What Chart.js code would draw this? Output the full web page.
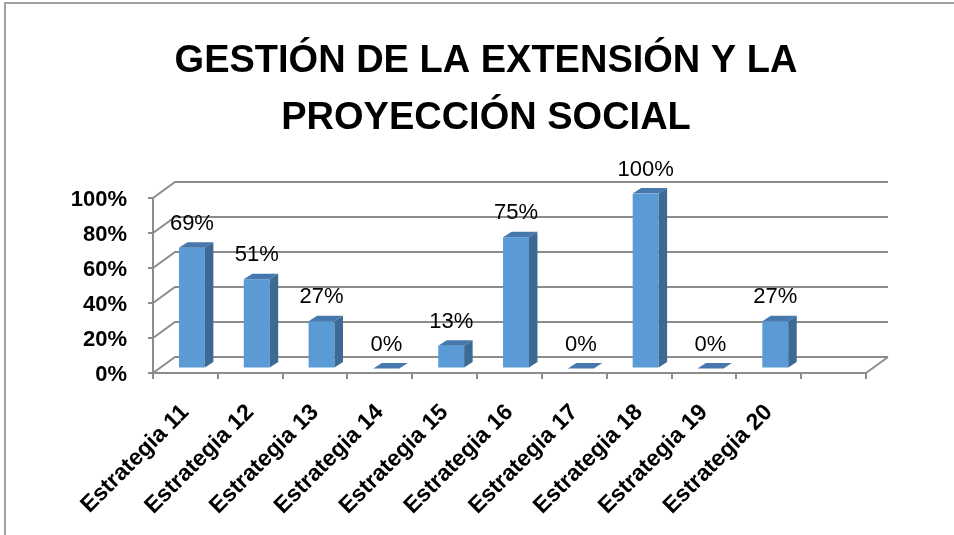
<!DOCTYPE html>
<html><head><meta charset="utf-8">
<script src="https://cdn.jsdelivr.net/npm/chart.js@4/dist/chart.umd.min.js"></script>
<style>html,body{margin:0;padding:0;background:#fff}#wrap{width:954px;height:535px}</style>
</head><body>
<div id="wrap"><canvas id="c" width="954" height="535"></canvas></div>
<script>
const categories = ['Estrategia 11','Estrategia 12','Estrategia 13','Estrategia 14','Estrategia 15','Estrategia 16','Estrategia 17','Estrategia 18','Estrategia 19','Estrategia 20',''];
const values = [0.69, 0.51, 0.27, 0, 0.13, 0.75, 0, 1.00, 0, 0.27, null];
const tickValues = [0, 0.2, 0.4, 0.6, 0.8, 1.0];
const titleLines = ['GESTIÓN DE LA EXTENSIÓN Y LA', 'PROYECCIÓN SOCIAL'];

const FONT = "'Liberation Sans', Arial, sans-serif";
const GRID = '#8c8c8c';
const BAR_SHIFT = {x: 6.5, y: -4.5};
const DEPTH = {x: 8.5, y: -5.5};
const WALL = {x: 22, y: -16};

const pct = v => Math.round(v * 100) + '%';

const framePlugin = {
  id: 'frame',
  beforeDraw(chart) {
    const ctx = chart.ctx;
    ctx.save();
    ctx.fillStyle = '#fff';
    ctx.fillRect(0, 0, chart.width, chart.height);
    ctx.strokeStyle = '#a0a0a0';
    ctx.lineWidth = 2;
    ctx.beginPath();
    ctx.moveTo(5, chart.height);
    ctx.lineTo(5, 3);
    ctx.lineTo(chart.width, 3);
    ctx.stroke();
    ctx.restore();
  }
};

const wallPlugin = {
  id: 'wall',
  beforeDatasetsDraw(chart) {
    const ctx = chart.ctx, y = chart.scales.y, a = chart.chartArea;
    ctx.save();
    ctx.strokeStyle = GRID;
    ctx.lineWidth = 2;
    ctx.beginPath();
    tickValues.forEach(v => {
      const py = y.getPixelForValue(v);
      ctx.moveTo(a.left, py);
      ctx.lineTo(a.left + WALL.x, py + WALL.y);
      ctx.lineTo(a.right + WALL.x, py + WALL.y);
    });
    ctx.moveTo(a.right, a.bottom);
    ctx.lineTo(a.right + WALL.x, a.bottom + WALL.y);
    ctx.stroke();
    ctx.restore();
    ctx.save();
    ctx.translate(BAR_SHIFT.x, BAR_SHIFT.y);
  },
  afterDatasetsDraw(chart) {
    const ctx = chart.ctx;
    const meta = chart.getDatasetMeta(0);
    meta.data.forEach((bar, i) => {
      if (values[i] === null || values[i] === undefined) return;
      const p = bar.getProps(['x', 'y', 'base', 'width'], true);
      const l = p.x - p.width / 2, r = p.x + p.width / 2;
      if (p.base - p.y > 0.5) {
        ctx.fillStyle = '#3c6a94';
        ctx.beginPath();
        ctx.moveTo(r, p.y);
        ctx.lineTo(r + DEPTH.x, p.y + DEPTH.y);
        ctx.lineTo(r + DEPTH.x, p.base + DEPTH.y);
        ctx.lineTo(r, p.base);
        ctx.closePath();
        ctx.fill();
      }
      ctx.fillStyle = '#4677ad';
      ctx.beginPath();
      ctx.moveTo(l, p.y);
      ctx.lineTo(l + DEPTH.x, p.y + DEPTH.y);
      ctx.lineTo(r + DEPTH.x, p.y + DEPTH.y);
      ctx.lineTo(r, p.y);
      ctx.closePath();
      ctx.fill();
      ctx.fillStyle = '#000';
      ctx.font = '22px ' + FONT;
      ctx.textAlign = 'center';
      ctx.textBaseline = 'alphabetic';
      ctx.fillText(pct(values[i]), p.x, p.y - 18);
    });
    ctx.restore();
  }
};

new Chart(document.getElementById('c'), {
  type: 'bar',
  data: {
    labels: categories,
    datasets: [{
      data: values,
      backgroundColor: '#5b9bd5',
      borderWidth: 0,
      barPercentage: 0.4,
      categoryPercentage: 1.0
    }]
  },
  options: {
    responsive: false,
    animation: false,
    devicePixelRatio: 1,
    layout: {padding: {left: 18, right: 0, top: 0, bottom: 0}},
    plugins: {
      legend: {display: false},
      tooltip: {enabled: false},
      title: {
        display: true,
        text: titleLines,
        color: '#000',
        font: {family: FONT, size: 38, weight: 'bold', lineHeight: '57px'},
        padding: {top: 33, bottom: 51}
      }
    },
    scales: {
      x: {
        grid: {display: true, drawOnChartArea: false, drawTicks: true, tickLength: 6, color: GRID, lineWidth: 2, offset: true},
        border: {display: true, color: GRID, width: 2},
        ticks: {
          autoSkip: false, maxRotation: 45, minRotation: 45, padding: 20,
          color: '#000', font: {family: FONT, size: 23, weight: 'bold'}
        },
        afterFit(s) { s.height = 535 - 373; }
      },
      y: {
        min: 0, max: 1,
        afterBuildTicks(s) { s.ticks = tickValues.map(v => ({value: v})); },
        grid: {display: true, drawOnChartArea: false, drawTicks: true, tickLength: 5, color: GRID, lineWidth: 2},
        border: {display: true, color: GRID, width: 2},
        ticks: {
          padding: 21, labelOffset: 2,
          color: '#000', font: {family: FONT, size: 22, weight: 'bold'},
          callback: v => pct(v)
        },
        afterFit(s) { s.width = 153 - 18; }
      },
      yRight: {
        type: 'linear', position: 'right', min: 0, max: 1,
        display: true,
        grid: {display: false, drawOnChartArea: false, drawTicks: false},
        border: {display: false},
        ticks: {display: false},
        afterFit(s) { s.width = 954 - 866; }
      }
    }
  },
  plugins: [framePlugin, wallPlugin]
});
</script>
</body></html>
